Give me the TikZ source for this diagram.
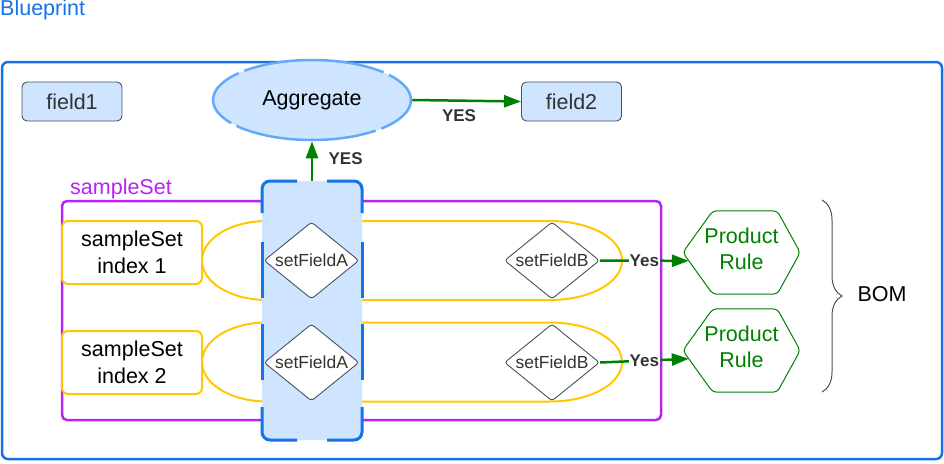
\documentclass[tikz,border=0pt]{standalone}
\usepackage{fontspec}
\setmainfont{Liberation Sans}
\usetikzlibrary{arrows.meta, shapes.geometric, decorations.pathreplacing, calc}

\definecolor{bpblue}{RGB}{20,115,230}
\definecolor{bpfill}{RGB}{207,228,255}
\definecolor{aggline}{RGB}{100,170,250}
\definecolor{setpurple}{RGB}{185,35,240}
\definecolor{idxyellow}{RGB}{255,200,0}
\definecolor{rulegreen}{RGB}{0,128,0}
\definecolor{darktext}{RGB}{51,51,51}
\definecolor{edgegray}{RGB}{75,80,95}

\newcommand{\bigtxt}{\fontsize{21.5}{27}\selectfont}
\newcommand{\midtxt}{\fontsize{17.5}{20}\selectfont}

\tikzset{
  fieldbox/.style={draw=edgegray, fill=bpfill, line width=0.9pt, rounded corners=5pt,
    minimum width=100pt, minimum height=39pt, text=darktext, font=\bigtxt},
  aggnode/.style={ellipse, draw=aggline, fill=bpfill, line width=2.5pt, minimum width=198pt,
    minimum height=80pt, inner sep=0pt, font=\bigtxt,
    dash pattern=on 70pt off 6pt on 142pt off 6pt, dash phase=35pt},
  idxbox/.style={draw=idxyellow, fill=white, line width=2pt, rounded corners=6pt,
    minimum width=140pt, minimum height=63pt, align=center, font=\bigtxt},
  colnode/.style={fill=bpfill, rounded corners=8pt, minimum width=100pt, minimum height=259pt,
    inner sep=0pt},
  setnode/.style={diamond, draw=edgegray, fill=white, line width=0.9pt, rounded corners=3pt,
    minimum width=95pt, minimum height=77pt, aspect=1.25, inner sep=0pt, text=darktext,
    font=\midtxt},
  rulenode/.style={minimum width=117pt, minimum height=83pt, inner sep=0pt, align=center,
    text depth=7pt, text=rulegreen, font=\fontsize{21.5}{26}\selectfont},
  yesarrow/.style={rulegreen, line width=2.5pt, -{Triangle[length=17pt, width=12pt]}},
  yeslabel/.style={text=darktext, font=\fontsize{17}{20}\selectfont\bfseries},
}

\begin{document}
\begin{tikzpicture}[x=1pt, y=-1pt]
  \useasboundingbox (0,0) rectangle (944,463);

  % Blueprint frame
  \node[anchor=west, inner sep=0pt, text=bpblue, font=\bigtxt] (bp) at (0,10) {Blueprint};
  \draw[bpblue, line width=2.5pt, rounded corners=6pt] (2,62) rectangle (942,459);

  % Fields
  \node[fieldbox] (f1) at (72,101.5) {field1};
  \node[fieldbox] (f2) at (571.5,101.5) {field2};
  \node[aggnode] (agg) at (312,100) {Aggregate};

  % sampleSet frame
  \draw[setpurple, line width=2.5pt, rounded corners=5pt] (62,201) rectangle (661,420);
  \node[anchor=west, inner sep=0pt, text=setpurple, font=\bigtxt] (ss) at (70,189) {sampleSet};

  % Tracks
  \foreach \y in {260.5, 362} {
    \draw[idxyellow, line width=2pt] (267,\y-39.5) -- (550,\y-39.5)
      .. controls (590,\y-39.5) and (622,\y-22) .. (622,\y)
      .. controls (622,\y+22) and (590,\y+39.5) .. (550,\y+39.5) -- (267,\y+39.5)
      .. controls (231,\y+39.5) and (202,\y+22) .. (202,\y)
      .. controls (202,\y-22) and (231,\y-39.5) .. (267,\y-39.5);
  }
  \node[idxbox] (ix1) at (132,252.5) {sampleSet\\index 1};
  \node[idxbox] (ix2) at (132,362.5) {sampleSet\\index 2};

  % Column
  \node[colnode] (col) at (312,310.5) {};
  \begin{scope}[bpblue, line width=3pt, rounded corners=8pt]
    \draw (297,181) -- (262,181) -- (262,213);
    \draw (327,181) -- (362,181) -- (362,213);
    \draw (297,440) -- (262,440) -- (262,407);
    \draw (327,440) -- (362,440) -- (362,407);
    \foreach \x in {262,362} {
      \draw (\x,242) -- (\x,298);
      \draw (\x,324) -- (\x,380);
    }
  \end{scope}

  % Conditions
  \node[setnode] (fa1) at (311.5,260.5) {setFieldA};
  \node[setnode] (fb1) at (552,260.5) {setFieldB};
  \node[setnode] (fa2) at (311.5,362.5) {setFieldA};
  \node[setnode] (fb2) at (552,362.5) {setFieldB};

  % Rules
  \node[rulenode] (pr1) at (741.5,252.5) {Product\\Rule};
  \node[rulenode] (pr2) at (741.5,350.5) {Product\\Rule};
  \foreach \n in {pr1,pr2}
    \draw[rulegreen, line width=1pt, rounded corners=4pt] (\n.west) -- ([xshift=30pt]\n.north west)
      -- ([xshift=-23pt]\n.north east) -- (\n.east) -- ([xshift=-23pt]\n.south east)
      -- ([xshift=30pt]\n.south west) -- cycle;

  % Arrows
  \draw[yesarrow] (col.north) -- node[yeslabel, anchor=west, xshift=12pt, yshift=2pt] {YES} (agg.south);
  \draw[yesarrow] (agg.east) -- node[yeslabel, anchor=north, yshift=-4pt, pos=0.43] {YES} (f2.west);
  \draw[yesarrow] (fb1.east) -- node[yeslabel, fill=white, inner sep=0.5pt] {Yes}
    ($(pr1.west)!0.2!([xshift=30pt]pr1.south west)$);
  \draw[yesarrow] (fb2.east) -- node[yeslabel, fill=white, inner sep=0.5pt] {Yes}
    ($(pr2.west)!0.2!([xshift=30pt]pr2.south west)$);

  % BOM
  \draw[edgegray, line width=1pt, decorate, decoration={brace, amplitude=20pt}] (822,200) -- (822,392);
  \node[font=\bigtxt] (bom) at (882,294) {BOM};

\end{tikzpicture}
\end{document}
